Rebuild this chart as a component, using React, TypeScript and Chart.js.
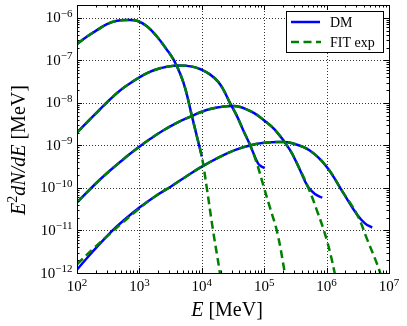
import React, { useEffect, useRef } from "react";
import { Chart, registerables } from "chart.js";

Chart.register(...registerables);

// ---- data: E [MeV] and E^2 dN/dE [MeV] ----
const DM1_E = [100, 145, 209, 302, 437, 631, 912, 1318, 1905, 2754, 3548, 4571, 5495, 6918, 8318, 10000];
const DM1_Y = [2.4e-7, 3.63e-7, 5.13e-7, 7.08e-7, 8.51e-7, 8.91e-7, 8.51e-7, 6.31e-7, 3.63e-7, 1.78e-7, 1.02e-7, 4.57e-8, 2.04e-8, 5.01e-9, 1.66e-9, 5.5e-10];
const FIT1_E = [100, 145, 209, 302, 437, 631, 912, 1318, 1905, 2754, 3548, 4571, 5495, 6918, 8318, 10000, 12023, 15136, 19498, 20893];
const FIT1_Y = [2.4e-7, 3.63e-7, 5.13e-7, 7.08e-7, 8.51e-7, 8.91e-7, 8.51e-7, 6.31e-7, 3.63e-7, 1.78e-7, 1.02e-7, 4.57e-8, 2.04e-8, 5.01e-9, 1.66e-9, 5.5e-10, 1e-10, 1e-11, 1e-12, 4e-13];

const DM2_E = [100, 158, 234, 331, 479, 692, 1000, 1380, 1905, 2754, 3981, 5754, 7586, 9550, 13490, 18197, 22387, 28184, 36308, 45709, 58884, 79433, 91201, 102329];
const DM2_Y = [2.0e-9, 3.98e-9, 7.08e-9, 1.17e-8, 1.91e-8, 2.82e-8, 3.98e-8, 5.13e-8, 6.17e-8, 7.08e-8, 7.59e-8, 7.41e-8, 6.92e-8, 6.17e-8, 4.68e-8, 3.16e-8, 2.0e-8, 1.0e-8, 5.01e-9, 2.34e-9, 1.05e-9, 3.8e-10, 3.16e-10, 2.95e-10];
const FIT2_E = [100, 158, 234, 331, 479, 692, 1000, 1380, 1905, 2754, 3981, 5754, 7586, 9550, 13490, 18197, 22387, 28184, 36308, 45709, 58884, 75858, 97724, 125893, 162181, 213796, 229087];
const FIT2_Y = [2.0e-9, 3.98e-9, 7.08e-9, 1.17e-8, 1.91e-8, 2.82e-8, 3.98e-8, 5.13e-8, 6.17e-8, 7.08e-8, 7.59e-8, 7.41e-8, 6.92e-8, 6.17e-8, 4.68e-8, 3.16e-8, 2.0e-8, 1.0e-8, 5.01e-9, 2.34e-9, 1.05e-9, 3.89e-10, 1.1e-10, 3.16e-11, 8.9e-12, 1e-12, 5e-13];

const DM3_E = [100, 234, 550, 1000, 1479, 2399, 3981, 6918, 10000, 14125, 19498, 25119, 31623, 39811, 50119, 69183, 95499, 147911, 257040, 354813, 501187, 660693, 851138];
const DM3_Y = [4.57e-11, 1.58e-10, 4.68e-10, 9.33e-10, 1.41e-9, 2.24e-9, 3.39e-9, 4.9e-9, 6.17e-9, 7.24e-9, 7.94e-9, 8.32e-9, 8.41e-9, 8.13e-9, 7.24e-9, 5.75e-9, 4.07e-9, 2.34e-9, 7.94e-10, 3.16e-10, 1.07e-10, 7.08e-11, 5.89e-11];
const FIT3_E = [100, 234, 550, 1000, 1479, 2399, 3981, 6918, 10000, 14125, 19498, 25119, 31623, 39811, 50119, 69183, 95499, 147911, 257040, 354813, 501187, 707946, 1000000, 1348963, 1445440];
const FIT3_Y = [4.57e-11, 1.58e-10, 4.68e-10, 9.33e-10, 1.41e-9, 2.24e-9, 3.39e-9, 4.9e-9, 6.17e-9, 7.24e-9, 7.94e-9, 8.32e-9, 8.41e-9, 8.13e-9, 7.24e-9, 5.75e-9, 4.07e-9, 2.34e-9, 7.94e-10, 3.16e-10, 1.07e-10, 2.82e-11, 6.17e-12, 1e-12, 5e-13];

const DM4_E = [100, 178, 372, 562, 1000, 1778, 3162, 5623, 10000, 19498, 35481, 63096, 100000, 177828, 281838, 537032, 1000000, 1819701, 3090295, 4168694, 5370318];
const DM4_Y = [1.2e-12, 3.16e-12, 1e-11, 1.74e-11, 3.47e-11, 6.31e-11, 1.07e-10, 1.86e-10, 3.16e-10, 5.37e-10, 7.94e-10, 1.02e-9, 1.15e-9, 1.2e-9, 1.12e-9, 7.59e-10, 3.16e-10, 7.94e-11, 2.34e-11, 1.45e-11, 1.17e-11];
const FIT4_E = [100, 178, 372, 1000, 1778, 3162, 5623, 10000, 19498, 35481, 63096, 100000, 177828, 281838, 537032, 1000000, 1819701, 3090295, 4466836, 7244360, 7943282];
const FIT4_Y = [1.6e-12, 3.6e-12, 9.55e-12, 3.31e-11, 6.31e-11, 1.07e-10, 1.86e-10, 3.16e-10, 5.37e-10, 7.94e-10, 1.02e-9, 1.15e-9, 1.2e-9, 1.12e-9, 7.59e-10, 3.16e-10, 7.94e-11, 2.34e-11, 6.17e-12, 1e-12, 5e-13];

// axis ranges and tick exponents
const X_MIN = 1e2;
const X_MAX = 1e7;
const Y_MIN = 1e-12;
const Y_MAX = 2e-6;
const X_TICK_EXP = [2, 3, 4, 5, 6, 7];
const Y_TICK_EXP = [-12, -11, -10, -9, -8, -7, -6];

const LEGEND_LABELS = ["DM", "FIT exp"];
const X_TITLE = ["E", " [MeV]"];
const Y_TITLE = ["E", "2", "dN/dE", " [MeV]"];

const BLUE = "#0000ff";
const GREEN = "#008000";
const SERIF = '"Liberation Serif", "DejaVu Serif", serif';
const DASH = [8, 4.5];

const xy = (xs: number[], ys: number[]) => xs.map((x, i) => ({ x, y: ys[i] }));

const supText = (e: number) => (e < 0 ? "\u2212" + Math.abs(e) : String(e));

function logTicks(min: number, max: number) {
  const out: { v: number; major: boolean }[] = [];
  for (let d = Math.floor(Math.log10(min)); d <= Math.ceil(Math.log10(max)); d++) {
    for (let k = 1; k <= 9; k++) {
      const v = k * Math.pow(10, d);
      if (v >= min * 0.9999 && v <= max * 1.0001) out.push({ v, major: k === 1 });
    }
  }
  return out;
}

type Run = { text: string; font: string; dy: number };

function drawRuns(ctx: CanvasRenderingContext2D, runs: Run[], cx: number, y: number) {
  let total = 0;
  const widths = runs.map((r) => {
    ctx.font = r.font;
    const w = ctx.measureText(r.text).width;
    total += w;
    return w;
  });
  let x = cx - total / 2;
  runs.forEach((r, i) => {
    ctx.font = r.font;
    ctx.fillText(r.text, x, y + r.dy);
    x += widths[i];
  });
}

const mplPlugin = {
  id: "mplStyle",
  beforeDatasetsDraw(chart: any) {
    const { ctx, chartArea: a, scales } = chart;
    const xs = scales.x;
    const ys = scales.y;
    ctx.save();
    ctx.strokeStyle = "rgba(0,0,0,0.8)";
    ctx.lineWidth = 1;
    ctx.setLineDash([1, 2]);
    X_TICK_EXP.forEach((e) => {
      const px = Math.round(xs.getPixelForValue(Math.pow(10, e))) + 0.5;
      if (px <= a.left + 1 || px >= a.right - 1) return;
      ctx.beginPath();
      ctx.moveTo(px, a.top);
      ctx.lineTo(px, a.bottom);
      ctx.stroke();
    });
    Y_TICK_EXP.forEach((e) => {
      const py = Math.round(ys.getPixelForValue(Math.pow(10, e))) + 0.5;
      if (py <= a.top + 1 || py >= a.bottom - 1) return;
      ctx.beginPath();
      ctx.moveTo(a.left, py);
      ctx.lineTo(a.right, py);
      ctx.stroke();
    });
    ctx.restore();
  },
  afterDatasetsDraw(chart: any) {
    const { ctx, chartArea: a, scales } = chart;
    const xs = scales.x;
    const ys = scales.y;
    ctx.save();
    // frame
    ctx.strokeStyle = "#000";
    ctx.lineWidth = 1;
    ctx.setLineDash([]);
    ctx.strokeRect(Math.round(a.left) + 0.5, Math.round(a.top) + 0.5, Math.round(a.right - a.left), Math.round(a.bottom - a.top));
    // inward ticks
    ctx.beginPath();
    logTicks(X_MIN, X_MAX).forEach(({ v, major }) => {
      const px = Math.round(xs.getPixelForValue(v)) + 0.5;
      const len = major ? 5 : 2.5;
      ctx.moveTo(px, a.bottom);
      ctx.lineTo(px, a.bottom - len);
      ctx.moveTo(px, a.top);
      ctx.lineTo(px, a.top + len);
    });
    logTicks(Y_MIN, Y_MAX).forEach(({ v, major }) => {
      const py = Math.round(ys.getPixelForValue(v)) + 0.5;
      const len = major ? 5 : 2.5;
      ctx.moveTo(a.left, py);
      ctx.lineTo(a.left + len, py);
      ctx.moveTo(a.right, py);
      ctx.lineTo(a.right - len, py);
    });
    ctx.stroke();

    // tick labels
    ctx.fillStyle = "#000";
    ctx.textBaseline = "alphabetic";
    ctx.textAlign = "left";
    const baseFont = `15px ${SERIF}`;
    const expFont = `11px ${SERIF}`;
    X_TICK_EXP.forEach((e) => {
      const px = xs.getPixelForValue(Math.pow(10, e));
      drawRuns(ctx, [
        { text: "10", font: baseFont, dy: 0 },
        { text: supText(e), font: expFont, dy: -5.5 },
      ], px, a.bottom + 18);
    });
    Y_TICK_EXP.forEach((e) => {
      const py = ys.getPixelForValue(Math.pow(10, e));
      ctx.font = expFont;
      const we = ctx.measureText(supText(e)).width;
      ctx.font = baseFont;
      const wb = ctx.measureText("10").width;
      const right = a.left - 4.5;
      ctx.font = baseFont;
      ctx.fillText("10", right - we - wb, py + 4.5);
      ctx.font = expFont;
      ctx.fillText(supText(e), right - we, py - 1);
    });

    // axis titles
    const tItal = `italic 20px ${SERIF}`;
    const tRom = `20px ${SERIF}`;
    drawRuns(ctx, [
      { text: X_TITLE[0], font: tItal, dy: 0 },
      { text: X_TITLE[1], font: tRom, dy: 0 },
    ], (a.left + a.right) / 2 - 6, 316);
    ctx.save();
    ctx.translate(25, 150);
    ctx.rotate(-Math.PI / 2);
    drawRuns(ctx, [
      { text: Y_TITLE[0], font: tItal, dy: 0 },
      { text: Y_TITLE[1], font: `14px ${SERIF}`, dy: -8 },
      { text: Y_TITLE[2], font: tItal, dy: 0 },
      { text: Y_TITLE[3], font: tRom, dy: 0 },
    ], 0, 0);
    ctx.restore();

    // legend
    const lx = 286.5, ly = 11.5, lw = 97, lh = 41;
    ctx.fillStyle = "#fff";
    ctx.fillRect(lx, ly, lw, lh);
    ctx.strokeStyle = "#000";
    ctx.lineWidth = 1;
    ctx.strokeRect(lx, ly, lw, lh);
    ctx.lineWidth = 2.5;
    ctx.strokeStyle = BLUE;
    ctx.beginPath();
    ctx.moveTo(291, 22);
    ctx.lineTo(320, 22);
    ctx.stroke();
    ctx.strokeStyle = GREEN;
    ctx.setLineDash(DASH);
    ctx.beginPath();
    ctx.moveTo(291, 42);
    ctx.lineTo(321, 42);
    ctx.stroke();
    ctx.setLineDash([]);
    ctx.fillStyle = "#000";
    ctx.font = `14px ${SERIF}`;
    ctx.fillText(LEGEND_LABELS[0], 330, 27);
    ctx.fillText(LEGEND_LABELS[1], 330, 47);
    ctx.restore();
  },
};

const dmSet = (label: string, xs: number[], ys: number[]) => ({
  label,
  data: xy(xs, ys),
  borderColor: BLUE,
  borderWidth: 2.5,
  pointRadius: 0,
  fill: false,
  tension: 0.4,
  order: 2,
});
const fitSet = (label: string, xs: number[], ys: number[]) => ({
  label,
  data: xy(xs, ys),
  borderColor: GREEN,
  borderWidth: 2.5,
  borderDash: DASH,
  pointRadius: 0,
  fill: false,
  tension: 0.4,
  order: 1,
});

export default function App() {
  const ref = useRef<HTMLCanvasElement>(null);
  useEffect(() => {
    const canvas = ref.current;
    if (!canvas) return;
    const chart = new Chart(canvas, {
      type: "line",
      data: {
        datasets: [
          dmSet("DM", DM1_E, DM1_Y),
          dmSet("DM", DM2_E, DM2_Y),
          dmSet("DM", DM3_E, DM3_Y),
          dmSet("DM", DM4_E, DM4_Y),
          fitSet("FIT exp", FIT1_E, FIT1_Y),
          fitSet("FIT exp", FIT2_E, FIT2_Y),
          fitSet("FIT exp", FIT3_E, FIT3_Y),
          fitSet("FIT exp", FIT4_E, FIT4_Y),
        ] as any,
      },
      options: {
        responsive: false,
        maintainAspectRatio: false,
        animation: false,
        devicePixelRatio: 1,
        events: [],
        layout: { padding: { left: 77, right: 18, top: 5, bottom: 53 } },
        scales: {
          x: { type: "logarithmic", min: X_MIN, max: X_MAX, display: false },
          y: { type: "logarithmic", min: Y_MIN, max: Y_MAX, display: false },
        },
        plugins: { legend: { display: false }, tooltip: { enabled: false } },
      },
      plugins: [mplPlugin],
    });
    return () => chart.destroy();
  }, []);
  return (
    <div style={{ position: "fixed", left: 0, top: 0, width: 407, height: 326, background: "#fff" }}>
      <canvas ref={ref} width={407} height={326} style={{ display: "block", width: 407, height: 326 }} />
    </div>
  );
}
